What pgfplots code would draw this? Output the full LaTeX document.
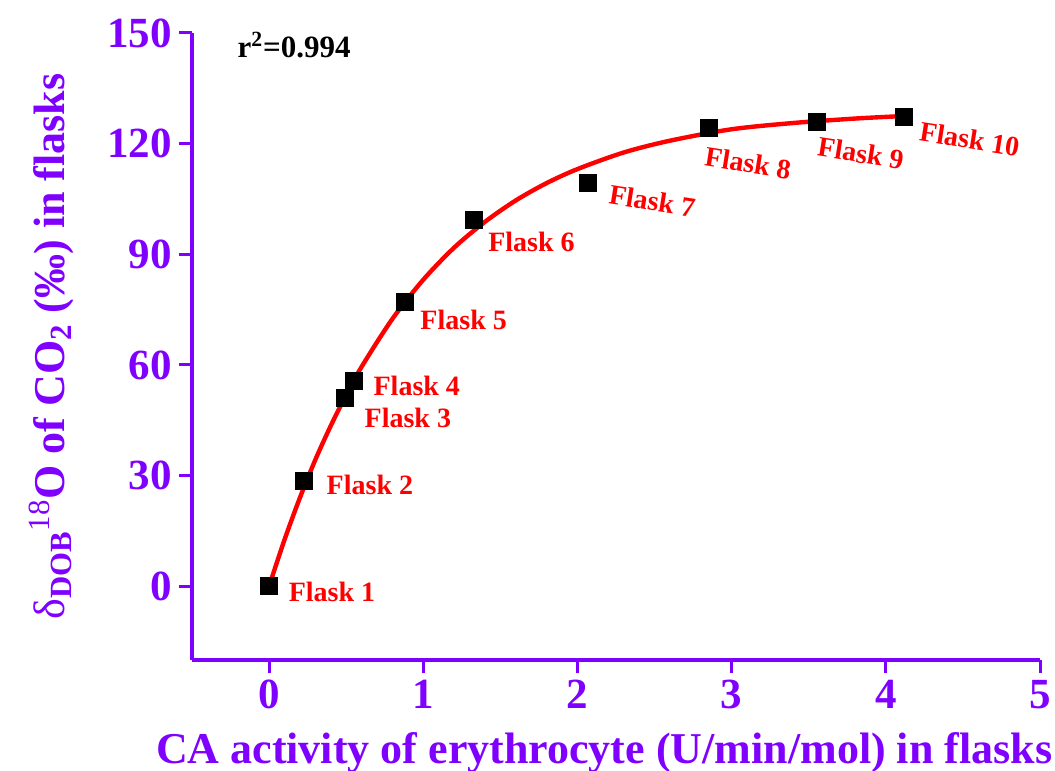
\documentclass[border=0pt]{standalone}
\usepackage{fontspec}
\setmainfont{Liberation Serif}
\usepackage{pgfplots}
\pgfplotsset{compat=1.18}
\definecolor{axpurple}{RGB}{128,0,255}
\definecolor{fitred}{RGB}{255,0,0}
\begin{document}
\begin{tikzpicture}
\begin{axis}[
  scale only axis, width=424pt, height=313.5pt,
  xmin=-0.5, xmax=5, ymin=-20, ymax=150,
  axis x line*=bottom, axis y line*=left,
  axis line style={axpurple, line width=2pt, -},
  xtick={0,1,2,3,4,5}, ytick={0,30,60,90,120,150},
  tick style={axpurple, line width=1.5pt},
  tick align=outside, major tick length=6.5pt,
  tick label style={font=\fontsize{21.5}{25}\selectfont\bfseries, text=axpurple},
  /pgf/number format/assume math mode=true,
  xlabel={CA activity of erythrocyte (U/min/mol) in flasks},
  ylabel={{\mdseries δ}\textsubscript{DOB}\textsuperscript{\mdseries 18}O of CO\textsubscript{2} (‰) in flasks},
  label style={font=\fontsize{22}{26}\selectfont\bfseries, text=axpurple},
  xlabel style={at={(axis description cs:0.486,0)}, anchor=base, yshift=-51.5pt},
  ylabel style={at={(axis description cs:0,0.5)}, anchor=base, rotate=0, yshift=63.5pt},
  clip=false,
]
\addplot[only marks, mark=square*, mark size=4.25pt, black] coordinates {
  (0,0) (0.227,28.5) (0.49,51) (0.55,55.6) (0.88,77) (1.33,99.3)
  (2.065,109.3) (2.855,124.2) (3.55,125.8) (4.12,127.2)
};
\addplot[fitred, line width=2.2pt, smooth] coordinates {
  (0,0) (0.1,12.6) (0.2,24.0) (0.3,34.3) (0.4,43.5) (0.5,51.9) (0.6,59.5)
  (0.8,72.5) (1.0,83.1) (1.2,91.8) (1.4,98.8) (1.6,104.6) (1.8,109.3)
  (2.0,113.1) (2.3,117.6) (2.6,120.8) (3.0,123.9) (3.4,125.6) (3.8,126.8) (4.12,127.5)
};
\tikzset{flask/.style={text=fitred, font=\fontsize{14}{17}\selectfont\bfseries, inner sep=0pt}}
\node[flask] at (axis cs:0.408,-1.6) {Flask 1};
\node[flask] at (axis cs:0.654,27.4) {Flask 2};
\node[flask] at (axis cs:0.900,45.6) {Flask 3};
\node[flask] at (axis cs:0.958,54.2) {Flask 4};
\node[flask] at (axis cs:1.262,72.1) {Flask 5};
\node[flask] at (axis cs:1.702,93.3) {Flask 6};
\node[flask, rotate=-9] at (axis cs:2.485,104.4) {Flask 7};
\node[flask, rotate=-9] at (axis cs:3.107,114.7) {Flask 8};
\node[flask, rotate=-9] at (axis cs:3.838,117.4) {Flask 9};
\node[flask, rotate=-9] at (axis cs:4.544,121.2) {Flask 10};
\node[anchor=west, inner sep=0pt, font=\fontsize{15.5}{19}\selectfont\bfseries] at (axis cs:-0.207,146.7) {r\textsuperscript{2}=0.994};
\end{axis}
\pgfresetboundingbox
\path ([shift={(-96pt,-55.5pt)}]current axis.south west) rectangle ([shift={(431.5pt,330pt)}]current axis.south west);
\end{tikzpicture}
\end{document}
